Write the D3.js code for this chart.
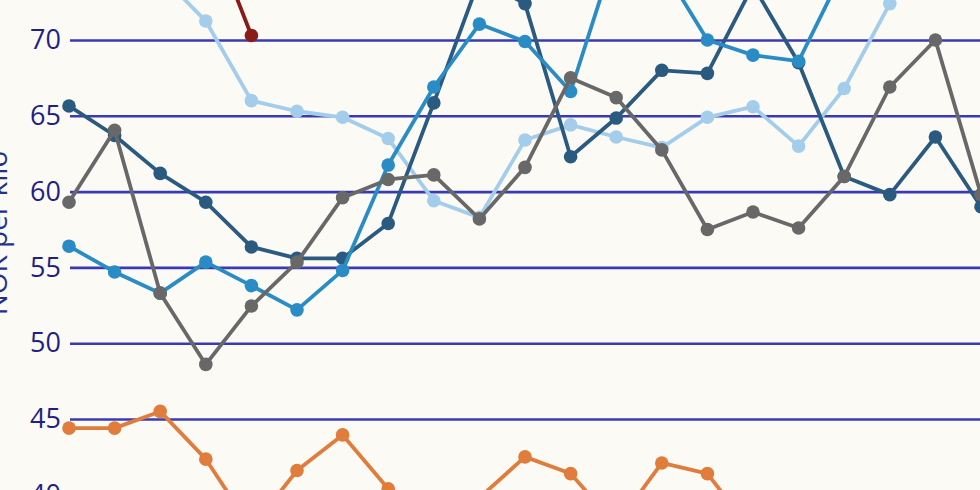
<!DOCTYPE html>
<html>
<head>
<meta charset="utf-8">
<script src="https://cdn.jsdelivr.net/npm/d3@7"></script>
<style>
  html, body { margin: 0; padding: 0; background: #fbfaf5; overflow: hidden; }
  #chart-area { width: 980px; height: 490px; }
</style>
</head>
<body>
<div id="chart-area"></div>
<script>
// uker (x-aksen er utenfor bildet)
const weeks = ['1', '2', '3', '4', '5', '6', '7', '8', '9', '10', '11',
    '12', '13', '14', '15', '16', '17', '18', '19', '20', '21'];

// verdier, NOK per kilo (null = ingen verdi)
const darkRed = [84.0, 81.5, 79.5, 78.0, 70.3, null, null, null, null, null, null,
    null, null, null, null, null, null, null, null, null, null];
const lightBlue = [77.0, 76.0, 74.3, 71.25, 66.0, 65.3, 64.9, 63.5, 59.4, 58.3, 63.4,
    64.4, 63.6, 62.9, 64.9, 65.6, 63.0, 66.8, 72.4, 76.5, 78.0];
const navy = [65.65, 63.7, 61.2, 59.3, 56.35, 55.6, 55.6, 57.9, 65.85, 74.0, 72.4,
    62.3, 64.85, 68.0, 67.8, 73.6, 68.5, 61.0, 59.8, 63.6, 59.0];
const midBlue = [56.4, 54.7, 53.3, 55.35, 53.8, 52.2, 54.8, 61.75, 66.9, 71.05, 69.9,
    66.6, 76.0, 74.9, 70.0, 69.0, 68.6, 74.7, 77.0, 77.5, 78.0];
const gray = [59.3, 64.05, 53.3, 48.6, 52.45, 55.35, 59.6, 60.8, 61.1, 58.2, 61.6,
    67.5, 66.2, 62.75, 57.5, 58.65, 57.6, 61.0, 66.9, 70.0, 59.8];
const orange = [44.4, 44.4, 45.5, 42.35, 37.8, 41.6, 43.95, 40.4, 38.5, 39.8, 42.5,
    41.4, 38.0, 42.1, 41.4, 37.5, 37.0, 36.5, 37.0, 36.0, 36.5];

const yTicks = [40, 45, 50, 55, 60, 65, 70];

const series = [
    { name: 'darkRed', values: darkRed, color: '#8a1c17' },
    { name: 'lightBlue', values: lightBlue, color: '#a3cdea' },
    { name: 'navy', values: navy, color: '#2b5a80' },
    { name: 'midBlue', values: midBlue, color: '#2a8cc4' },
    { name: 'gray', values: gray, color: '#686868' },
    { name: 'orange', values: orange, color: '#e07c3c' }
];

const width = 980;
const height = 490;

const svg = d3.select('#chart-area').append('svg')
    .attr('width', width)
    .attr('height', height);

svg.append('rect')
    .attr('width', width)
    .attr('height', height)
    .attr('fill', '#fbfaf5');

// skalaer - plottet er et utsnitt, derfor gaar de utenfor svg-en
const xScale = d3.scalePoint()
    .domain(weeks)
    .range([69, 981]);

const yScale = d3.scaleLinear()
    .domain([40, 70])
    .range([494.8, 40]);

// rutenett og tall paa y-aksen
const yAxis = svg.append('g')
    .attr('transform', 'translate(70, 0)')
    .call(d3.axisLeft(yScale)
        .tickValues(yTicks)
        .tickSize(-1000)
        .tickPadding(9)
        .tickFormat(d3.format('d')));

yAxis.select('.domain').remove();
yAxis.selectAll('.tick line')
    .attr('stroke', '#3a3ab4')
    .attr('stroke-width', 2.6);
yAxis.selectAll('.tick text')
    .attr('fill', '#1f1f86')
    .attr('font-family', '"Open Sans", sans-serif')
    .attr('font-size', '27px');

// aksetittel
svg.append('text')
    .attr('transform', 'translate(7, 233) rotate(-90)')
    .attr('text-anchor', 'middle')
    .attr('fill', '#23308c')
    .attr('font-family', '"Open Sans", sans-serif')
    .attr('font-size', '28px')
    .text('NOK per kilo');

const line = d3.line()
    .defined(d => d.v != null)
    .x(d => xScale(d.w))
    .y(d => yScale(d.v));

series.forEach(s => {
    const pts = s.values.map((v, i) => ({ w: weeks[i], v: v }));
    const g = svg.append('g').attr('class', s.name);

    g.append('path')
        .datum(pts)
        .attr('fill', 'none')
        .attr('stroke', s.color)
        .attr('stroke-width', 3.8)
        .attr('stroke-linejoin', 'round')
        .attr('d', line);

    g.selectAll('circle')
        .data(pts.filter(d => d.v != null))
        .enter()
        .append('circle')
        .attr('cx', d => xScale(d.w))
        .attr('cy', d => yScale(d.v))
        .attr('r', 6.8)
        .attr('fill', s.color);
});
</script>
</body>
</html>
